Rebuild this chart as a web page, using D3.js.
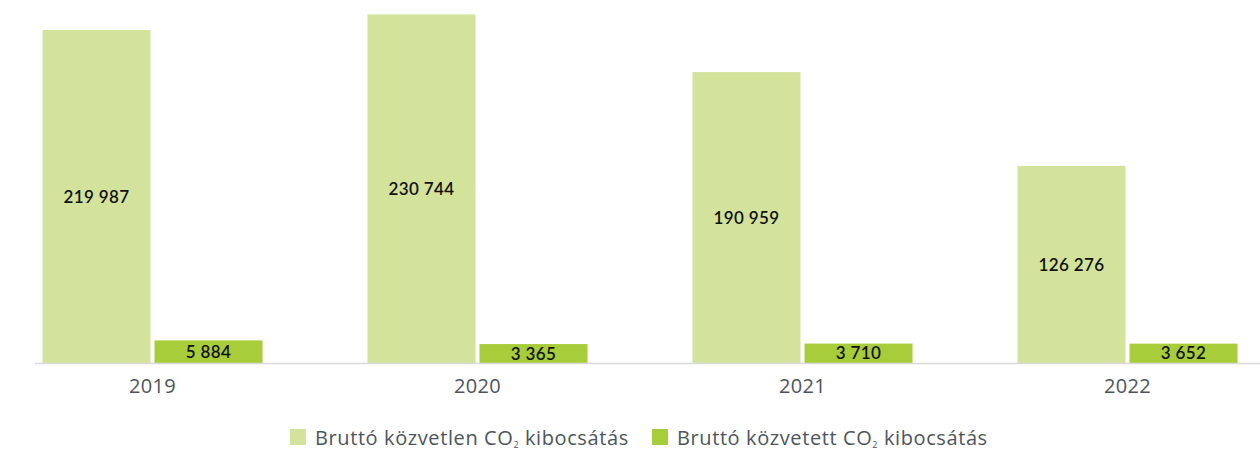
<!DOCTYPE html>
<html>
<head>
<meta charset="utf-8">
<script src="https://cdn.jsdelivr.net/npm/d3@7"></script>
<style>
  body { margin: 0; background: #fff; }
  text { font-family: "Open Sans", Lato, sans-serif; }
</style>
</head>
<body>
<div id="chart"></div>
<script>
// data
const years = ['2019', '2020', '2021', '2022'];
const seriesNames = ['Bruttó közvetlen CO', 'Bruttó közvetett CO'];
const direct = [219987, 230744, 190959, 126276];
const indirect = [5884, 3365, 3710, 3652];
const colors = ['#d3e39b', '#a8cd3a'];

const width = 1260, height = 450;
const baseY = 363;
const yMin = -9700;

const svg = d3.select('#chart').append('svg')
    .attr('width', width).attr('height', height);

// scales
const x0 = d3.scaleBand(years, [-10, 1290])
    .paddingInner(0.323).paddingOuter(0.1615);
const x1 = d3.scaleBand([0, 1], [0, x0.bandwidth()])
    .paddingInner(0.0357);
// domain starts below 0 so the small bars stay readable, as in the original
const y = d3.scaleLinear([yMin, 240000], [baseY, 1]);

const fmt = v => d3.format(',')(v).replace(/,/g, ' ');

const rows = years.map((yr, i) => ({ year: yr, vals: [direct[i], indirect[i]] }));

const groups = svg.selectAll('g.year')
    .data(rows)
    .join('g')
    .classed('year', true)
    .attr('transform', d => `translate(${x0(d.year)},0)`);

const bars = groups.selectAll('g.bar')
    .data(d => d.vals.map((v, k) => ({ k, v })))
    .join('g')
    .classed('bar', true);

bars.append('rect')
    .attr('x', d => x1(d.k))
    .attr('y', d => y(d.v))
    .attr('width', x1.bandwidth())
    .attr('height', d => y(yMin) - y(d.v))
    .attr('fill', d => colors[d.k]);

bars.append('text')
    .attr('x', d => x1(d.k) + x1.bandwidth() / 2)
    .attr('y', d => (y(d.v) + y(yMin)) / 2)
    .attr('dy', '0.36em')
    .attr('text-anchor', 'middle')
    .attr('font-size', 17)
    .attr('font-weight', 600)
    .attr('letter-spacing', 0.4)
    .attr('fill', '#111')
    .style('font-family', 'Lato, sans-serif')
    .text(d => fmt(d.v));

// baseline
svg.append('line')
    .attr('x1', 35).attr('x2', width)
    .attr('y1', baseY + 0.5).attr('y2', baseY + 0.5)
    .attr('stroke', '#d9d9d9').attr('stroke-width', 1.5);

// x axis labels
const axisX = svg.append('g')
    .attr('transform', `translate(0,${baseY})`)
    .call(d3.axisBottom(x0).tickSize(0).tickPadding(16));
axisX.select('.domain').remove();
axisX.selectAll('text')
    .attr('font-size', 20)
    .attr('letter-spacing', 0.3)
    .attr('fill', '#4d555c')
    .style('font-family', '"Open Sans", sans-serif');

// legend
const legendX = [290, 652];
const legend = svg.selectAll('g.legend')
    .data(seriesNames)
    .join('g')
    .classed('legend', true)
    .attr('transform', (d, i) => `translate(${legendX[i]},429)`);
legend.append('rect')
    .attr('width', 16).attr('height', 16)
    .attr('fill', (d, i) => colors[i]);
const lt = legend.append('text')
    .attr('x', 25).attr('y', 16)
    .attr('font-size', 20)
    .attr('letter-spacing', 0.6)
    .attr('fill', '#4d555c');
lt.append('tspan').text(d => d);
lt.append('tspan').attr('font-size', 9).attr('dy', 3).text('2');
lt.append('tspan').attr('dy', -3).text(' kibocsátás');
</script>
</body>
</html>
